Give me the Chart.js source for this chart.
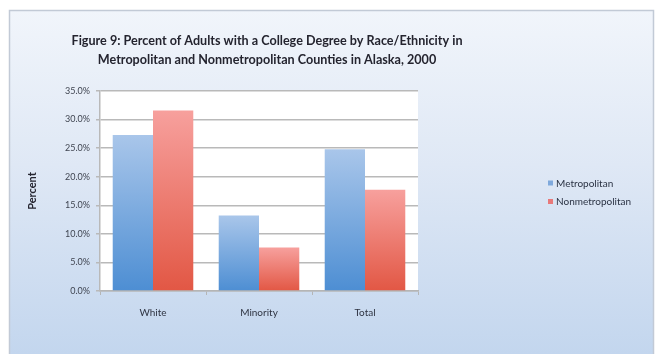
<!DOCTYPE html>
<html>
<head>
<meta charset="utf-8">
<script src="https://cdn.jsdelivr.net/npm/chart.js@4.4.1/dist/chart.umd.min.js"></script>
<style>
  html, body { margin: 0; padding: 0; background: #ffffff; }
  #wrap { width: 664px; height: 354px; }
</style>
</head>
<body>
<div id="wrap"><canvas id="chart" width="664" height="354"></canvas></div>
<script>
const categories = ['White', 'Minority', 'Total'];
const metropolitan = [27.3, 13.2, 24.8];
const nonmetropolitan = [31.6, 7.6, 17.7];
const yTicks = [0, 5, 10, 15, 20, 25, 30, 35];
const titleLines = [
  'Figure 9: Percent of Adults with a College Degree by Race/Ethnicity in',
  'Metropolitan and Nonmetropolitan Counties in Alaska, 2000'
];

const seriesStyles = [
  { top: '#a9c6ea', bottom: '#4d8ed3', key: '#7fa9dc' },
  { top: '#f7a09d', bottom: '#e25744', key: '#e8797a' }
];

// Vertical gradient for each bar, running from its top down to the zero line
function barGradient(styleIdx) {
  return function (ctx) {
    const chart = ctx.chart;
    const area = chart.chartArea;
    if (!area || ctx.type !== 'data') return seriesStyles[styleIdx].bottom;
    const y = chart.scales.y;
    const top = y.getPixelForValue(ctx.raw);
    const base = y.getPixelForValue(0);
    const g = chart.ctx.createLinearGradient(0, top, 0, base);
    g.addColorStop(0, seriesStyles[styleIdx].top);
    g.addColorStop(1, seriesStyles[styleIdx].bottom);
    return g;
  };
}

// Panel background: soft blue fill behind the whole figure, white plot area
const panelBackground = {
  id: 'panelBackground',
  beforeDraw(chart) {
    const c = chart.ctx;
    const a = chart.chartArea;
    c.save();
    c.fillStyle = '#ffffff';
    c.fillRect(0, 0, chart.width, chart.height);
    const g = c.createLinearGradient(0, 10, 0, chart.height);
    g.addColorStop(0, '#f1f5fb');
    g.addColorStop(0.45, '#dfe8f5');
    g.addColorStop(1, '#c3d6ee');
    c.fillStyle = g;
    c.fillRect(9.5, 10.5, 644, chart.height);
    c.strokeStyle = '#c2cad6';
    c.lineWidth = 1.5;
    c.strokeRect(9.5, 10.5, 644, chart.height);
    c.fillStyle = '#ffffff';
    c.fillRect(a.left, a.top, a.right - a.left, a.bottom - a.top);
    c.restore();
  }
};

// Series key to the right of the plot, built from the datasets
const sideKey = {
  id: 'sideKey',
  afterDraw(chart) {
    const c = chart.ctx;
    const a = chart.chartArea;
    c.save();
    c.font = '10px Lato, "Open Sans", sans-serif';
    c.textBaseline = 'middle';
    chart.data.datasets.forEach((ds, i) => {
      const x = a.right + 130;
      const y = 183 + i * 18.5;
      c.fillStyle = seriesStyles[i].key;
      c.fillRect(x, y - 2.5, 5, 5);
      c.fillStyle = '#2b3344';
      c.fillText(ds.label, x + 8, y + 0.5);
    });
    c.restore();
  }
};

new Chart(document.getElementById('chart'), {
  type: 'bar',
  data: {
    labels: categories,
    datasets: [
      { label: 'Metropolitan', data: metropolitan, backgroundColor: barGradient(0) },
      { label: 'Nonmetropolitan', data: nonmetropolitan, backgroundColor: barGradient(1) }
    ]
  },
  options: {
    responsive: false,
    animation: false,
    devicePixelRatio: 1,
    layout: { padding: { left: 0, right: 130, top: 0, bottom: 0 } },
    datasets: { bar: { categoryPercentage: 0.76, barPercentage: 1.0 } },
    plugins: {
      legend: { display: false },
      tooltip: { enabled: false },
      title: {
        display: true,
        text: titleLines,
        color: '#24242f',
        font: { family: 'Lato, "Open Sans", sans-serif', size: 12.6, weight: 'bold', lineHeight: '19px' },
        padding: { top: 31, bottom: 22 }
      }
    },
    scales: {
      x: {
        grid: { display: true, offset: true, drawOnChartArea: false, drawTicks: true, tickLength: 4, color: '#b5b5b5', lineWidth: 1 },
        border: { display: true, color: '#b5b5b5', width: 1.5 },
        ticks: { color: '#2f3442', font: { family: 'Lato, "Open Sans", sans-serif', size: 10 }, padding: 12 },
        afterFit(scale) { scale.height = 63; }
      },
      y: {
        min: 0,
        max: 35,
        afterBuildTicks(scale) { scale.ticks = yTicks.map(v => ({ value: v })); },
        grid: { color: '#b9b9b9', lineWidth: 1.5, tickLength: 4 },
        border: { display: true, color: '#b9b9b9', width: 1.5 },
        ticks: {
          color: '#3f4450',
          font: { family: 'Lato, "Open Sans", sans-serif', size: 9 },
          padding: 6,
          callback: v => v.toFixed(1) + '%'
        },
        title: {
          display: true,
          text: 'Percent',
          color: '#24242f',
          font: { family: 'Lato, "Open Sans", sans-serif', size: 11, weight: 'bold' },
          padding: { top: 26, bottom: 0 }
        },
        afterFit(scale) { scale.width = 100; }
      },
      // empty right-hand strip that holds the space where the series key sits
      keySpace: {
        type: 'linear',
        position: 'right',
        display: true,
        grid: { display: false, drawTicks: false },
        border: { display: false },
        ticks: { display: false },
        afterFit(scale) { scale.width = 116; }
      }
    }
  },
  plugins: [panelBackground, sideKey]
});
</script>
</body>
</html>
